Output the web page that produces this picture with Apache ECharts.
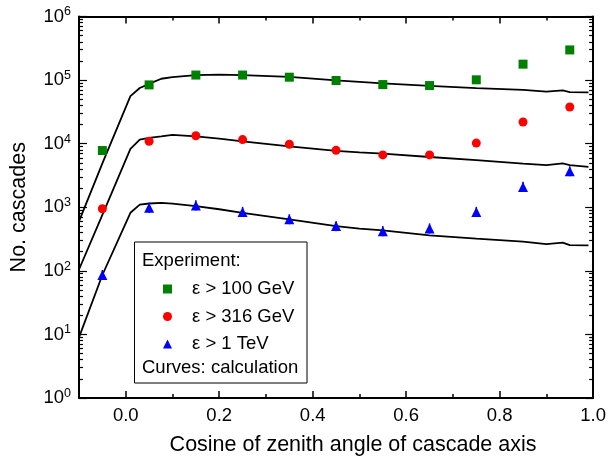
<!DOCTYPE html>
<html>
<head>
<meta charset="utf-8">
<script src="https://cdn.jsdelivr.net/npm/echarts@6/dist/echarts.min.js"></script>
<style>
html,body{margin:0;padding:0;background:#fff;}
#chart{width:609px;height:461px;}
</style>
</head>
<body>
<div id="chart"></div>
<script>
// ---- data ----
var pointX = [-0.05, 0.05, 0.15, 0.25, 0.35, 0.45, 0.55, 0.65, 0.75, 0.85, 0.95];
var exp100GeV = [7800, 84000, 120000, 120000, 111000, 98500, 85000, 82000, 101000, 178000, 298000];
var exp316GeV = [946, 10900, 13300, 11600, 9800, 7850, 6650, 6650, 10200, 21900, 37700];
var exp1TeV = [86, 980, 1070, 845, 645, 505, 421, 464, 845, 2090, 3680];
var err1TeVLow = [72, 815, 890, 705, 540, 420, 350, 385, 705, 1740, 3070];
var err1TeVHigh = [103, 1180, 1290, 1015, 775, 605, 505, 557, 1015, 2510, 4420];

var curveX = [-0.1, -0.05, 0.01, 0.03, 0.05, 0.076, 0.1, 0.15, 0.2, 0.25, 0.35, 0.45, 0.5, 0.55, 0.65, 0.75, 0.85, 0.9, 0.935, 0.95, 0.99];
var calc100GeV = [600, 4900, 56000, 75000, 87000, 105000, 111000, 120000, 122000, 120000, 112000, 99000, 94000, 89000, 81000, 75000, 70000, 66000, 69000, 64500, 64000];
var calc316GeV = [105, 760, 8260, 11600, 12300, 13000, 13700, 13000, 12000, 10900, 9100, 7700, 7300, 6970, 6170, 5500, 4850, 4600, 4900, 4600, 4300];
var calc1TeV = [9, 86, 818, 1100, 1145, 1170, 1140, 1040, 930, 818, 643, 505, 460, 432, 360, 320, 287, 264, 278, 253, 251];

var xMajorTicks = [0, 0.2, 0.4, 0.6, 0.8, 1.0];
var xMinorTicks = [0.1, 0.3, 0.5, 0.7, 0.9];
var yMajorTicks = [1, 10, 100, 1000, 10000, 100000, 1000000];
var seriesNames = ['\u03b5 > 100 GeV', '\u03b5 > 316 GeV', '\u03b5 > 1 TeV'];

var yMinorTicks = [];
for (var k = 0; k < 6; k++) {
  for (var m = 2; m <= 9; m++) yMinorTicks.push(m * Math.pow(10, k));
}

function zip(xs, ys) { return xs.map(function (x, i) { return [x, ys[i]]; }); }

var FONT = 'Liberation Sans, Arial, sans-serif';

function xAxisDef(pos, ticks, len, showLine, showLabel) {
  return {
    type: 'value', position: pos, min: -0.1, max: 1.0, interval: 0.1,
    axisLine: { show: showLine, onZero: false, lineStyle: { color: '#000', width: 2 } },
    axisTick: { show: true, inside: true, length: len, customValues: ticks, lineStyle: { color: '#000', width: 1.5 } },
    axisLabel: showLabel ? { show: true, customValues: xMajorTicks, formatter: function (v) { return v.toFixed(1); }, fontSize: 18.5, color: '#000', fontFamily: FONT, margin: 8 } : { show: false },
    splitLine: { show: false }
  };
}
function yAxisDef(pos, ticks, len, showLine, showLabel) {
  return {
    type: 'log', logBase: 10, position: pos, min: 1, max: 1000000,
    axisLine: { show: showLine, onZero: false, lineStyle: { color: '#000', width: 2 } },
    axisTick: { show: true, inside: true, length: len, customValues: ticks, lineStyle: { color: '#000', width: 1.2 } },
    axisLabel: showLabel ? {
      show: true, customValues: yMajorTicks, margin: 8,
      formatter: function (v) { return '{a|10}{b|' + Math.round(Math.log10(v)) + '}'; },
      rich: {
        a: { fontSize: 18.5, color: '#000', fontFamily: FONT },
        b: { fontSize: 12.5, color: '#000', fontFamily: FONT, padding: [0, 0, 9, 0] }
      }
    } : { show: false },
    splitLine: { show: false }
  };
}

var xAxes = [
  xAxisDef('bottom', xMajorTicks, 7, true, true),
  xAxisDef('bottom', xMinorTicks, 4, false, false),
  xAxisDef('top', xMajorTicks, 7, true, false),
  xAxisDef('top', xMinorTicks, 4, false, false)
];
xAxes[0].name = 'Cosine of zenith angle of cascade axis';
xAxes[0].nameLocation = 'middle';
xAxes[0].nameGap = 36;
xAxes[0].nameTextStyle = { fontSize: 21.5, color: '#000', fontFamily: FONT, padding: [0, 0, 0, 34] };

var yAxes = [
  yAxisDef('left', yMajorTicks, 8, true, true),
  yAxisDef('left', yMinorTicks, 4, false, false),
  yAxisDef('right', yMajorTicks, 8, true, false),
  yAxisDef('right', yMinorTicks, 4, false, false)
];
yAxes[0].name = 'No. cascades';
yAxes[0].nameLocation = 'middle';
yAxes[0].nameGap = 49;
yAxes[0].nameTextStyle = { fontSize: 21.5, color: '#000', fontFamily: FONT };

function curve(vals) {
  return {
    type: 'line', data: zip(curveX, vals), showSymbol: false, symbol: 'none',
    lineStyle: { color: '#000', width: 1.8 }, xAxisIndex: 0, yAxisIndex: 0, z: 2, silent: true
  };
}

var chart = echarts.init(document.getElementById('chart'), null, { renderer: 'canvas' });
chart.setOption({
  backgroundColor: '#fff',
  animation: false,
  textStyle: { fontFamily: FONT },
  grid: { left: 77, right: 15, top: 16.5, bottom: 62, containLabel: false },
  xAxis: xAxes,
  yAxis: yAxes,
  legend: {
    orient: 'vertical', left: 158, top: 274,
    itemWidth: 9, itemHeight: 9, itemGap: 7.5,
    data: seriesNames,
    textStyle: { fontSize: 18.5, color: '#000', fontFamily: FONT, padding: [0, 0, 0, 15], lineHeight: 20 }
  },
  graphic: [
    { type: 'rect', left: 134, top: 241.5, shape: { width: 172.5, height: 141 }, style: { fill: '#fff', stroke: '#000', lineWidth: 1 }, z: 0 },
    { type: 'text', left: 142, top: 251, style: { text: 'Experiment:', font: '18.5px ' + FONT, fill: '#000' }, z: 10 },
    { type: 'text', left: 142, top: 358, style: { text: 'Curves: calculation', font: '18.5px ' + FONT, fill: '#000' }, z: 10 }
  ],
  series: [
    curve(calc100GeV), curve(calc316GeV), curve(calc1TeV),
    { name: seriesNames[0], type: 'scatter', data: zip(pointX, exp100GeV), symbol: 'rect', symbolSize: 9, itemStyle: { color: '#008000', opacity: 1 }, z: 3 },
    { name: seriesNames[1], type: 'scatter', data: zip(pointX, exp316GeV), symbol: 'circle', symbolSize: 9, itemStyle: { color: '#ff0000', opacity: 1 }, z: 3 },
    { name: seriesNames[2], type: 'scatter', data: zip(pointX, exp1TeV), symbol: 'triangle', symbolSize: [10, 10], itemStyle: { color: '#0000ff', opacity: 1 }, z: 3 },
    {
      type: 'custom', silent: true, z: 4,
      data: pointX.map(function (x, i) { return [x, err1TeVLow[i], err1TeVHigh[i]]; }),
      renderItem: function (params, api) {
        var p1 = api.coord([api.value(0), api.value(1)]);
        var p2 = api.coord([api.value(0), api.value(2)]);
        return { type: 'line', shape: { x1: p1[0], y1: p1[1], x2: p2[0], y2: p2[1] }, style: { stroke: '#0000ff', lineWidth: 1.5 } };
      }
    }
  ]
});
</script>
</body>
</html>
